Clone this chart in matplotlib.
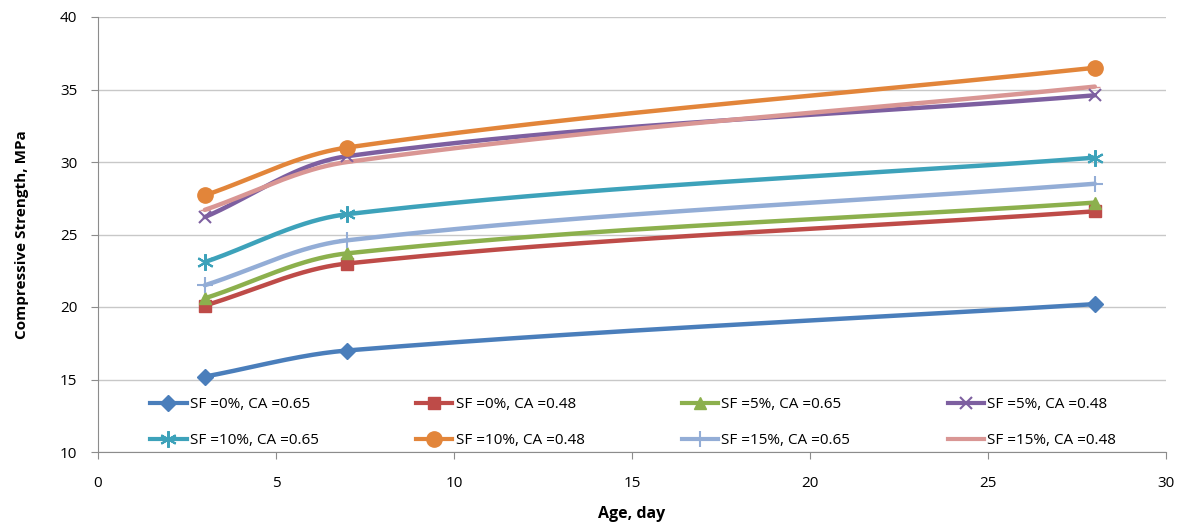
import numpy as np
import matplotlib
matplotlib.use('Agg')
import matplotlib.pyplot as plt

AGE_DAYS = [3, 7, 28]

LABELS = ['SF =0%, CA =0.65', 'SF =0%, CA =0.48', 'SF =5%, CA =0.65', 'SF =5%, CA =0.48',
          'SF =10%, CA =0.65', 'SF =10%, CA =0.48', 'SF =15%, CA =0.65', 'SF =15%, CA =0.48']

SF0_CA065 = [15.2, 17.0, 20.2]
SF0_CA048 = [20.1, 23.0, 26.6]
SF5_CA065 = [20.6, 23.7, 27.2]
SF5_CA048 = [26.2, 30.4, 34.6]
SF10_CA065 = [23.1, 26.4, 30.3]
SF10_CA048 = [27.7, 31.0, 36.5]
SF15_CA065 = [21.5, 24.6, 28.5]
SF15_CA048 = [26.7, 30.0, 35.2]

SERIES = [SF0_CA065, SF0_CA048, SF5_CA065, SF5_CA048,
          SF10_CA065, SF10_CA048, SF15_CA065, SF15_CA048]

COLORS = ['#4A7EBB', '#BE4B48', '#8CB04D', '#7D5FA0', '#3DA2BA', '#E2853A', '#93ADD6', '#D99694']
MARKERS = ['D', 's', '^', 'x', (6, 2, 0), 'o', '+', '_']
SIZES = [8, 9, 9, 9, 12, 11, 11, 7]

# px per data unit, so the smoothing is done in screen space
SX, SY = 35.6, 14.5


def smooth(xs, ys, n=80):
    # smoothed line: bezier, tangent from neighbours, handle length from segment length
    P = np.column_stack([np.asarray(xs, float) * SX, np.asarray(ys, float) * SY])
    m = len(P)
    tang = []
    for i in range(m):
        if i == 0:
            d = P[1] - P[0]
        elif i == m - 1:
            d = P[-1] - P[-2]
        else:
            d = P[i + 1] - P[i - 1]
        tang.append(d / np.linalg.norm(d))
    t = np.linspace(0, 1, n)[:, None]
    out = []
    for i in range(m - 1):
        p0, p3 = P[i], P[i + 1]
        L = np.linalg.norm(p3 - p0) / 3
        c1 = p0 + tang[i] * L
        c2 = p3 - tang[i + 1] * L
        b = (1 - t) ** 3 * p0 + 3 * (1 - t) ** 2 * t * c1 + 3 * (1 - t) * t ** 2 * c2 + t ** 3 * p3
        out.append(b)
    out = np.vstack(out)
    return out[:, 0] / SX, out[:, 1] / SY


plt.rcParams['font.family'] = ['Open Sans', 'DejaVu Sans']

fig = plt.figure(figsize=(11.87, 5.27), dpi=100)
ax = fig.add_axes([98 / 1187, 1 - 452 / 527, (1166 - 98) / 1187, (452 - 17) / 527])

handles = []
for i in range(len(SERIES)):
    sx, sy = smooth(AGE_DAYS, SERIES[i])
    ax.plot(sx, sy, color=COLORS[i], lw=3.2, solid_capstyle='round', zorder=3)
    mew = 1.5 if MARKERS[i] in ('x', '+', (6, 2, 0)) else 1
    ax.plot(AGE_DAYS, SERIES[i], ls='none', marker=MARKERS[i], ms=SIZES[i],
            color=COLORS[i], mew=mew, zorder=4)
    h, = ax.plot([], [], color=COLORS[i], lw=3, marker=MARKERS[i], ms=SIZES[i], mew=mew)
    handles.append(h)

ax.set_xlim(0, 30)
ax.set_ylim(10, 40)
ax.set_xticks(range(0, 31, 5))
ax.set_yticks(range(10, 41, 5))
ax.yaxis.grid(True, color='#C8C8C8', lw=1)
ax.set_axisbelow(True)
for s in ['top', 'right']:
    ax.spines[s].set_visible(False)
for s in ['left', 'bottom']:
    ax.spines[s].set_color('#8C8C8C')
ax.tick_params(axis='both', direction='out', color='#8C8C8C', labelsize=11, length=5)
ax.tick_params(axis='y', pad=10)
ax.tick_params(axis='x', pad=12)

ax.set_xlabel('Age, day', fontsize=11.5, fontweight='bold', labelpad=11)
ax.set_ylabel('Compressive Strength, MPa', fontsize=11, fontweight='bold', labelpad=22)

# legend fills column-wise, reference reads row-wise
order = [0, 4, 1, 5, 2, 6, 3, 7]
ax.legend([handles[k] for k in order], [LABELS[k] for k in order], ncol=4, loc='lower left',
          frameon=False, mode='expand', bbox_to_anchor=(0.040, -0.012, 0.922, 0.2), fontsize=11,
          handlelength=2.4, handletextpad=0.2, labelspacing=1.35, borderaxespad=0.2)

fig.savefig('out.png', dpi=100)
